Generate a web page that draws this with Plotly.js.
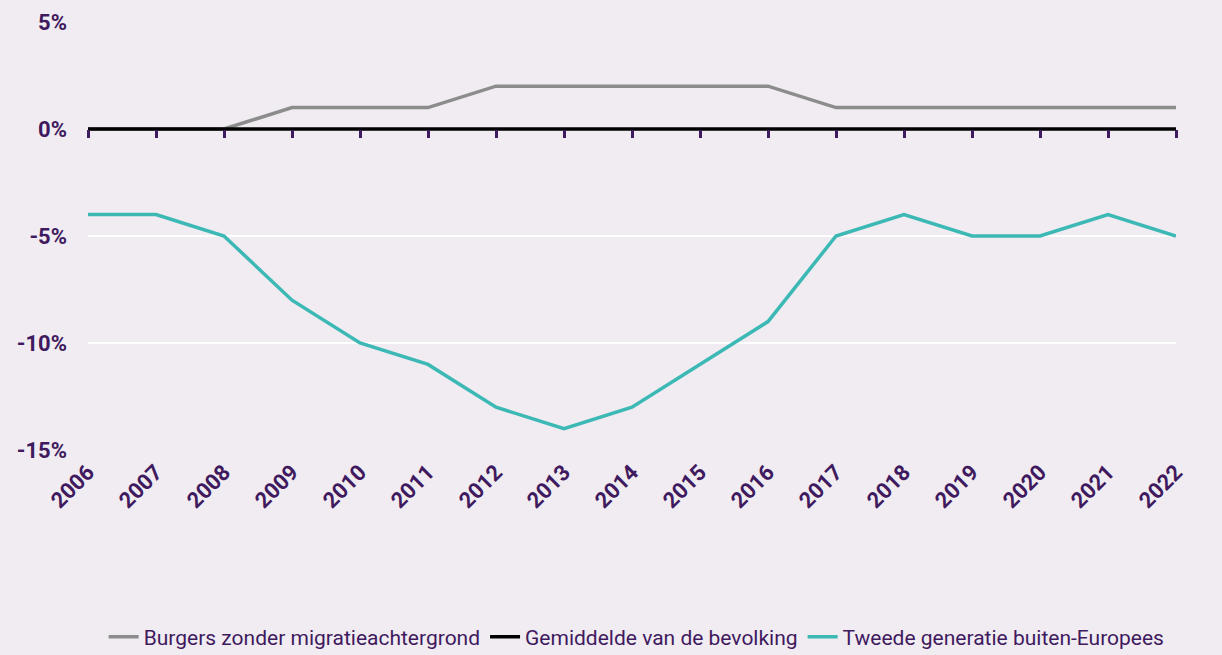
<!DOCTYPE html>
<html>
<head>
<meta charset="utf-8">
<script src="https://cdn.plot.ly/plotly-3.0.1.min.js"></script>
<style>
  body { margin: 0; background: #f0ecf2; }
  #chart { width: 1222px; height: 655px; }
</style>
</head>
<body>
<div id="chart"></div>
<script>
// years on the x axis
let years = [2006, 2007, 2008, 2009, 2010, 2011, 2012, 2013, 2014, 2015, 2016, 2017, 2018, 2019, 2020, 2021, 2022];
// difference to population average, in percent points
let burgers = [0, 0, 0, 1, 1, 1, 2, 2, 2, 2, 2, 1, 1, 1, 1, 1, 1];
let gemiddelde = [0, 0, 0, 0, 0, 0, 0, 0, 0, 0, 0, 0, 0, 0, 0, 0, 0];
let tweede = [-4, -4, -5, -8, -10, -11, -13, -14, -13, -11, -9, -5, -4, -5, -5, -4, -5];
let yTicks = [5, 0, -5, -10, -15];
let yLabels = ['5%', '0%', '-5%', '-10%', '-15%'];

let purple = "#3f1a5e";
let bg = "#f0ecf2";

let trace = [
  {
    x: years, y: burgers, type: 'scatter', mode: 'lines',
    name: 'Burgers zonder migratieachtergrond',
    line: { color: '#8c8c8c', width: 3.5 },
    legendrank: 1
  },
  {
    x: years, y: tweede, type: 'scatter', mode: 'lines',
    name: 'Tweede generatie buiten-Europees',
    line: { color: '#3cb8b5', width: 3.5 },
    legendrank: 3
  },
  {
    x: years, y: gemiddelde, type: 'scatter', mode: 'lines',
    name: 'Gemiddelde van de bevolking',
    line: { color: '#000000', width: 3.5 },
    legendrank: 2
  },
  // dummy trace so the tick-only axis at zero is drawn
  {
    x: years, y: gemiddelde, xaxis: 'x2', type: 'scatter', mode: 'lines',
    line: { color: 'rgba(0,0,0,0)', width: 0 },
    showlegend: false, hoverinfo: 'skip'
  }
];

let layout = {
  width: 1222,
  height: 655,
  margin: { l: 88, r: 46, t: 22, b: 205 },
  paper_bgcolor: bg,
  plot_bgcolor: bg,
  showlegend: true,
  xaxis: {
    range: [2006, 2022],
    automargin: false,
    tickmode: 'array',
    tickvals: years,
    ticktext: years.map(String),
    tickangle: -45,
    ticks: '',
    showgrid: false,
    zeroline: false,
    showline: false,
    ticklabelstandoff: 4,
    tickfont: { family: 'Roboto, sans-serif', size: 22, color: purple, weight: 'bold' }
  },
  xaxis2: {
    overlaying: 'x',
    anchor: 'free',
    position: 0.75,
    side: 'bottom',
    range: [2006, 2022],
    automargin: false,
    tickmode: 'array',
    tickvals: years,
    showticklabels: false,
    ticks: 'outside',
    ticklen: 8,
    tickwidth: 3,
    tickcolor: purple,
    showgrid: false,
    zeroline: false,
    showline: false
  },
  yaxis: {
    range: [-15, 5],
    automargin: false,
    tickmode: 'array',
    tickvals: yTicks,
    ticktext: yLabels,
    showgrid: true,
    gridcolor: '#ffffff',
    gridwidth: 2,
    zeroline: false,
    showline: false,
    ticklabelstandoff: 20,
    tickfont: { family: 'Roboto, sans-serif', size: 22, color: purple, weight: 'bold' }
  },
  legend: {
    orientation: 'h',
    xref: 'container',
    yref: 'container',
    x: 0.521,
    xanchor: 'center',
    y: 0.0275,
    yanchor: 'middle',
    font: { family: 'Roboto, sans-serif', size: 21, color: purple }
  }
};

Plotly.newPlot('chart', trace, layout, { displayModeBar: false });
</script>
</body>
</html>
